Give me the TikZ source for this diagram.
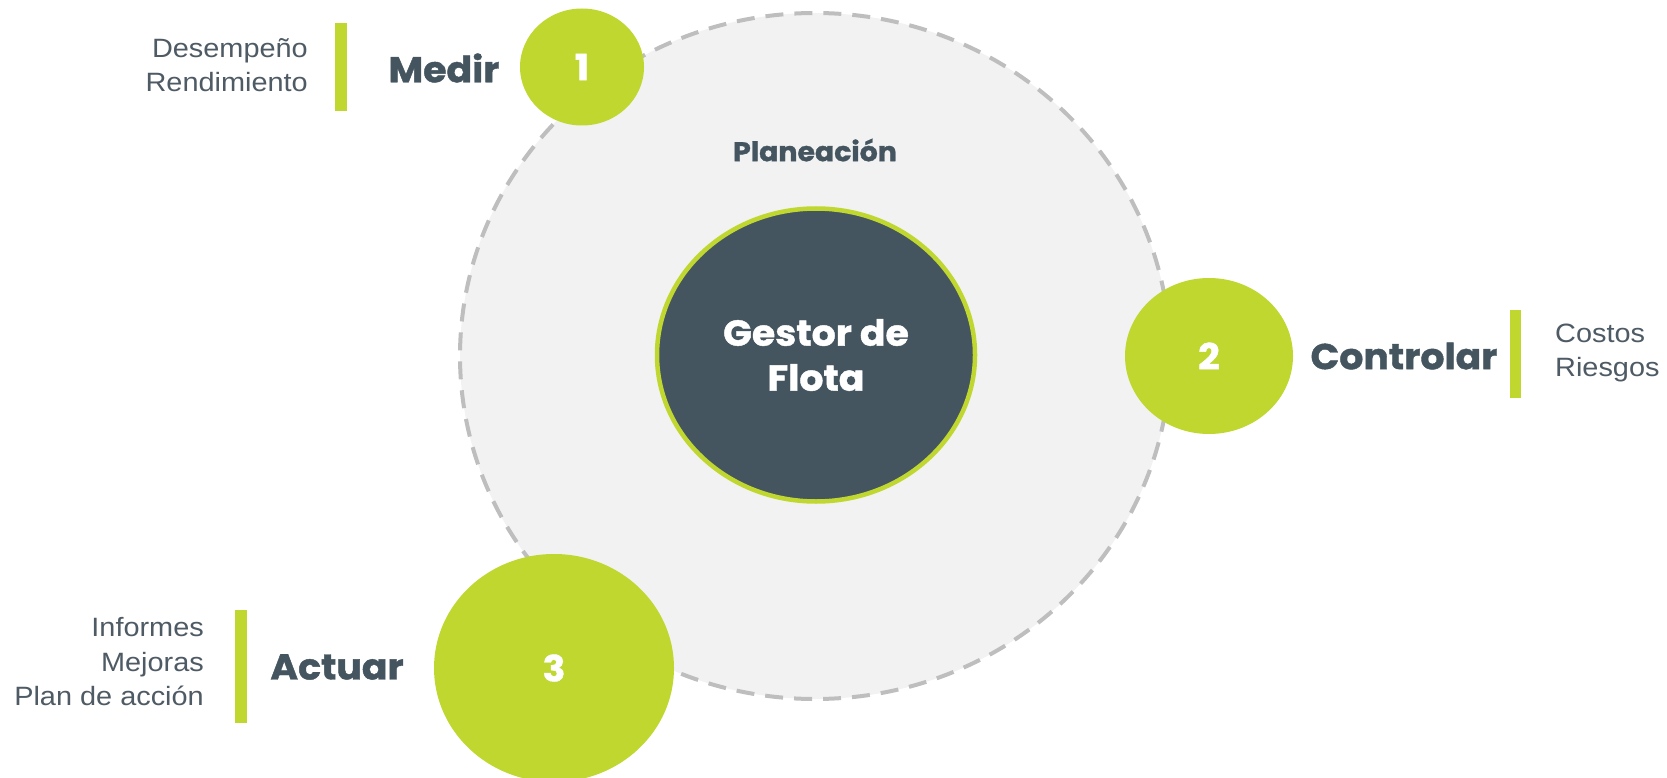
\documentclass[tikz,border=0pt]{standalone}
\usepackage{fontspec}
\usetikzlibrary{shapes.geometric}
\setmainfont{Liberation Sans}
\newfontfamily\bodyfont{Liberation Sans}[FakeStretch=1.09]
\newfontfamily\headfont{Poppins}[FakeStretch=1.05, BoldFeatures={FakeBold=1.2}]
\definecolor{lime}{RGB}{192,215,48}
\definecolor{slate}{RGB}{68,85,96}
\definecolor{bodytxt}{RGB}{78,90,100}
\definecolor{pale}{RGB}{242,242,242}
\definecolor{dashgray}{RGB}{190,190,190}
\tikzset{
  outerring/.style={ellipse, fill=pale, draw=dashgray, line width=4pt, dash pattern=on 18pt off 11pt, inner sep=0pt},
  corecircle/.style={ellipse, fill=slate, draw=lime, line width=4.5pt, inner sep=0pt, text=white, align=center, font=\headfont\bfseries\fontsize{36}{45}\selectfont},
  stage/.style={ellipse, fill=lime, inner sep=0pt, text=white, font=\headfont\bfseries\fontsize{36}{40}\selectfont},
  headlabel/.style={inner sep=0pt, text=slate, font=\headfont\bfseries\fontsize{36}{44}\selectfont},
  sublabel/.style={inner sep=0pt, text=slate, font=\headfont\bfseries\fontsize{27}{32}\selectfont},
  bodylabel/.style={inner sep=0pt, text=bodytxt, font=\bodyfont\fontsize{26.5}{34.5}\selectfont},
  bar/.style={fill=lime}
}
\begin{document}
\begin{tikzpicture}[x=1pt,y=-1pt]
\useasboundingbox (0,0) rectangle (1667,778);
\clip (0,0) rectangle (1667,778);

\node[outerring, minimum width=710pt, minimum height=686pt] (outer) at (815,356) {};
\node[sublabel] (plan) at (815,150) {Planeación};
\node[corecircle, minimum width=318pt, minimum height=293pt] (core) at (816,355) {Gestor de\\Flota};

\node[stage, minimum width=124pt, minimum height=117pt] (c1) at (582,67) {1};
\node[stage, minimum width=168pt, minimum height=156pt] (c2) at (1209,356) {2};
\node[stage, minimum width=240pt, minimum height=228pt] (c3) at (554,668) {3};

\node[headlabel] (medir) at (444,68) {Medir};
\node[headlabel] (controlar) at (1404,356) {Controlar};
\node[headlabel] (actuar) at (337,667) {Actuar};

\fill[bar] (335,23) rectangle (347,111);
\fill[bar] (1510,310) rectangle (1521,398);
\fill[bar] (235,610) rectangle (247,723);

\node[bodylabel, anchor=east, align=right] (t1) at (308,65) {Desempeño\\Rendimiento};
\node[bodylabel, anchor=west, align=left] (t2) at (1555,353) {Costos\\Riesgos};
\node[bodylabel, anchor=east, align=right] (t3) at (204,662) {Informes\\Mejoras\\Plan de acción};
\end{tikzpicture}
\end{document}
